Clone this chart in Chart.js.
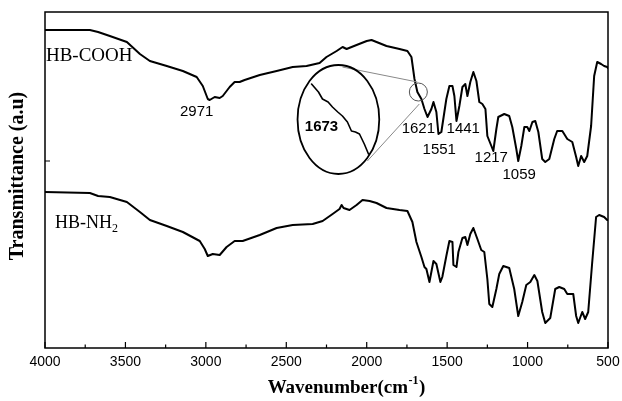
<!DOCTYPE html>
<html>
<head>
<meta charset="utf-8">
<script src="https://cdn.jsdelivr.net/npm/chart.js@4"></script>
<style>
  body { margin: 0; background: #fff; }
  #wrap { width: 622px; height: 401px; }
</style>
</head>
<body>
<div id="wrap"><canvas id="myChart"></canvas></div>
<script>
// HB-COOH spectrum (wavenumber, transmittance a.u.)
const wnCOOH = [4000, 3721, 3670, 3597, 3491, 3410, 3348, 3243, 3143, 3057, 3019, 2988, 2976, 2945, 2914, 2895, 2852, 2821, 2790, 2759, 2665, 2560, 2460, 2374, 2293, 2250, 2187, 2150, 2125, 2063, 2000, 1970, 1939, 1877, 1796, 1747, 1722, 1703, 1685, 1660, 1641, 1622, 1598, 1585, 1567, 1554, 1536, 1505, 1486, 1467, 1455, 1442, 1424, 1405, 1387, 1374, 1356, 1337, 1318, 1300, 1281, 1262, 1250, 1225, 1213, 1194, 1182, 1145, 1114, 1095, 1070, 1058, 1039, 1020, 1002, 989, 970, 952, 933, 909, 890, 865, 834, 816, 784, 753, 722, 698, 685, 667, 648, 629, 605, 586, 567, 543, 524, 505, 500];
const tCOOH = [318, 318, 316, 312, 306, 294, 287, 282, 277, 271, 262, 249, 248, 251, 250, 252, 261, 266, 266, 268, 273, 277, 281, 282, 285, 291, 297, 301, 299, 303, 307, 308, 306, 302, 299, 297, 291, 269, 256, 249, 239, 231, 239, 246, 236, 214, 216, 249, 262, 262, 252, 227, 242, 261, 264, 252, 266, 276, 267, 246, 244, 239, 212, 202, 197, 219, 231, 234, 232, 221, 199, 187, 202, 221, 221, 217, 226, 227, 216, 189, 186, 189, 209, 217, 217, 209, 206, 191, 182, 192, 186, 192, 222, 272, 286, 284, 282, 281, 280];

// HB-NH2 spectrum
const wnNH2 = [4000, 3721, 3670, 3597, 3491, 3410, 3348, 3243, 3143, 3038, 3007, 2988, 2957, 2914, 2871, 2821, 2771, 2665, 2560, 2460, 2336, 2274, 2212, 2169, 2156, 2144, 2107, 2063, 2026, 1982, 1939, 1877, 1796, 1747, 1716, 1691, 1660, 1641, 1629, 1610, 1585, 1567, 1542, 1530, 1505, 1486, 1467, 1461, 1442, 1430, 1405, 1387, 1374, 1356, 1337, 1312, 1288, 1269, 1250, 1238, 1219, 1194, 1176, 1151, 1114, 1083, 1058, 1033, 1008, 983, 958, 939, 909, 890, 859, 828, 803, 772, 753, 716, 698, 685, 660, 642, 623, 598, 574, 555, 524, 505, 500];
const tNH2 = [156, 155, 152, 151, 146, 136, 128, 122, 116, 107, 99, 92, 94, 93, 101, 107, 107, 113, 120, 123, 124, 127, 134, 139, 143, 140, 138, 143, 148, 147, 145, 140, 138, 137, 126, 106, 91, 81, 79, 66, 87, 84, 66, 71, 92, 107, 106, 83, 81, 96, 110, 111, 103, 114, 120, 109, 98, 96, 69, 44, 41, 59, 74, 82, 80, 59, 32, 46, 63, 66, 73, 67, 36, 25, 30, 59, 61, 59, 54, 54, 32, 25, 36, 29, 36, 86, 131, 133, 131, 128, 128];

// magnified detail around 1673 drawn inside the ellipse
const wnInset = [2343, 2300, 2275, 2240, 2213, 2180, 2151, 2120, 2095, 2070, 2045, 2015, 1989];
const tInset = [264, 256, 249, 246, 241, 236, 232, 226, 217, 216, 214, 204, 194];

// ellipse box and small circle (data units)
const ellipseWn = [2430, 1922];
const ellipseT = [174, 283];
const circleWn = 1679;
const circleT = 256;
const zoomLinesWn = [[2151, 1685], [1996, 1673]];
const zoomLinesT = [[281, 266], [187, 244]];

// peak labels
const peakText = ["2971", "1621", "1441", "1551", "1217", "1059"];
const peakWn = [3057, 1679, 1400, 1549, 1226, 1052];
const peakT = [236, 219, 219, 198, 190, 173];

const xMajor = [4000, 3500, 3000, 2500, 2000, 1500, 1000, 500];
const xMinor = [3750, 3250, 2750, 2250, 1750, 1250, 750];
const yTicks = [187];

function pts(xs, ys) {
  return xs.map((x, i) => ({ x: x, y: ys[i] }));
}

const decorations = {
  id: "decorations",
  afterDatasetsDraw(chart) {
    const ctx = chart.ctx;
    const sx = chart.scales.x;
    const sy = chart.scales.y;
    const a = chart.chartArea;
    const X = (v) => sx.getPixelForValue(v);
    const Y = (v) => sy.getPixelForValue(v);

    ctx.save();
    // frame
    ctx.strokeStyle = "#000";
    ctx.lineWidth = 1.5;
    ctx.strokeRect(a.left, a.top, a.right - a.left, a.bottom - a.top);

    // inward ticks
    ctx.lineWidth = 1.2;
    ctx.beginPath();
    xMajor.forEach((v) => {
      ctx.moveTo(X(v), a.bottom);
      ctx.lineTo(X(v), a.bottom - 6);
    });
    xMinor.forEach((v) => {
      ctx.moveTo(X(v), a.bottom);
      ctx.lineTo(X(v), a.bottom - 3.5);
    });
    yTicks.forEach((v) => {
      ctx.moveTo(a.left, Y(v));
      ctx.lineTo(a.left + 5, Y(v));
    });
    ctx.stroke();

    // tick labels
    ctx.fillStyle = "#000";
    ctx.font = "14px 'Liberation Sans', Arial, sans-serif";
    ctx.textAlign = "center";
    ctx.textBaseline = "middle";
    xMajor.forEach((v) => ctx.fillText(String(v), X(v), a.bottom + 14));

    // axis titles
    const t1 = "Wavenumber(cm";
    const t2 = ")";
    ctx.font = "bold 19px 'Liberation Serif', serif";
    const w1 = ctx.measureText(t1).width;
    ctx.font = "bold 12px 'Liberation Serif', serif";
    const ws = ctx.measureText("-1").width;
    ctx.font = "bold 19px 'Liberation Serif', serif";
    const w2 = ctx.measureText(t2).width;
    let tx = 346 - (w1 + ws + w2) / 2;
    const ty = a.bottom + 40;
    ctx.textAlign = "left";
    ctx.fillText(t1, tx, ty);
    ctx.font = "bold 12px 'Liberation Serif', serif";
    ctx.fillText("-1", tx + w1 + 0.5, ty - 7);
    ctx.font = "bold 19px 'Liberation Serif', serif";
    ctx.fillText(t2, tx + w1 + ws + 1, ty);

    ctx.save();
    ctx.translate(18, 176);
    ctx.rotate(-Math.PI / 2);
    ctx.textAlign = "center";
    ctx.font = "bold 20px 'Liberation Serif', serif";
    ctx.fillText("Transmittance (a.u)", 0, 0);
    ctx.restore();

    // series labels
    ctx.textAlign = "left";
    ctx.font = "19px 'Liberation Serif', serif";
    ctx.fillText("HB-COOH", X(3994), Y(292));
    const nx = X(3938);
    const ny = Y(125);
    ctx.font = "18px 'Liberation Serif', serif";
    ctx.fillText("HB-NH", nx, ny);
    const wn = ctx.measureText("HB-NH").width;
    ctx.font = "12px 'Liberation Serif', serif";
    ctx.fillText("2", nx + wn, ny + 6);

    // peak labels
    ctx.textAlign = "center";
    ctx.font = "15px 'Liberation Sans', Arial, sans-serif";
    peakText.forEach((s, i) => ctx.fillText(s, X(peakWn[i]), Y(peakT[i])));

    // magnifier
    const ex0 = X(ellipseWn[0]);
    const ex1 = X(ellipseWn[1]);
    const ey0 = Y(ellipseT[1]);
    const ey1 = Y(ellipseT[0]);
    ctx.strokeStyle = "#888";
    ctx.lineWidth = 1;
    ctx.beginPath();
    zoomLinesWn.forEach((l, i) => {
      ctx.moveTo(X(l[0]), Y(zoomLinesT[i][0]));
      ctx.lineTo(X(l[1]), Y(zoomLinesT[i][1]));
    });
    ctx.stroke();
    ctx.strokeStyle = "#555";
    ctx.beginPath();
    ctx.arc(X(circleWn), Y(circleT), 9, 0, Math.PI * 2);
    ctx.stroke();
    ctx.strokeStyle = "#000";
    ctx.lineWidth = 1.8;
    ctx.beginPath();
    ctx.ellipse((ex0 + ex1) / 2, (ey0 + ey1) / 2, (ex1 - ex0) / 2, (ey1 - ey0) / 2, 0, 0, Math.PI * 2);
    ctx.stroke();

    ctx.fillStyle = "#000";
    ctx.font = "bold 15px 'Liberation Sans', Arial, sans-serif";
    ctx.fillText("1673", X(2281), Y(221));
    ctx.restore();
  },
};

const ctx = document.getElementById("myChart").getContext("2d");
const myChart = new Chart(ctx, {
  type: "scatter",
  data: {
    datasets: [
      { label: "HB-COOH", data: pts(wnCOOH, tCOOH) },
      { label: "HB-NH2", data: pts(wnNH2, tNH2) },
      { label: "inset", data: pts(wnInset, tInset), borderWidth: 1.6 },
    ],
  },
  options: {
    responsive: true,
    maintainAspectRatio: false,
    animation: false,
    layout: { padding: { left: 45, right: 14, top: 12, bottom: 53 } },
    elements: {
      line: { borderColor: "#000", borderWidth: 2, tension: 0, borderJoinStyle: "round", borderCapStyle: "round" },
      point: { radius: 0 },
    },
    datasets: { scatter: { showLine: true, borderColor: "#000", borderWidth: 2 } },
    plugins: { legend: { display: false }, tooltip: { enabled: false } },
    scales: {
      x: { type: "linear", reverse: true, min: 500, max: 4000, display: false },
      y: { type: "linear", min: 0, max: 336, display: false },
    },
  },
  plugins: [decorations],
});
</script>
</body>
</html>
